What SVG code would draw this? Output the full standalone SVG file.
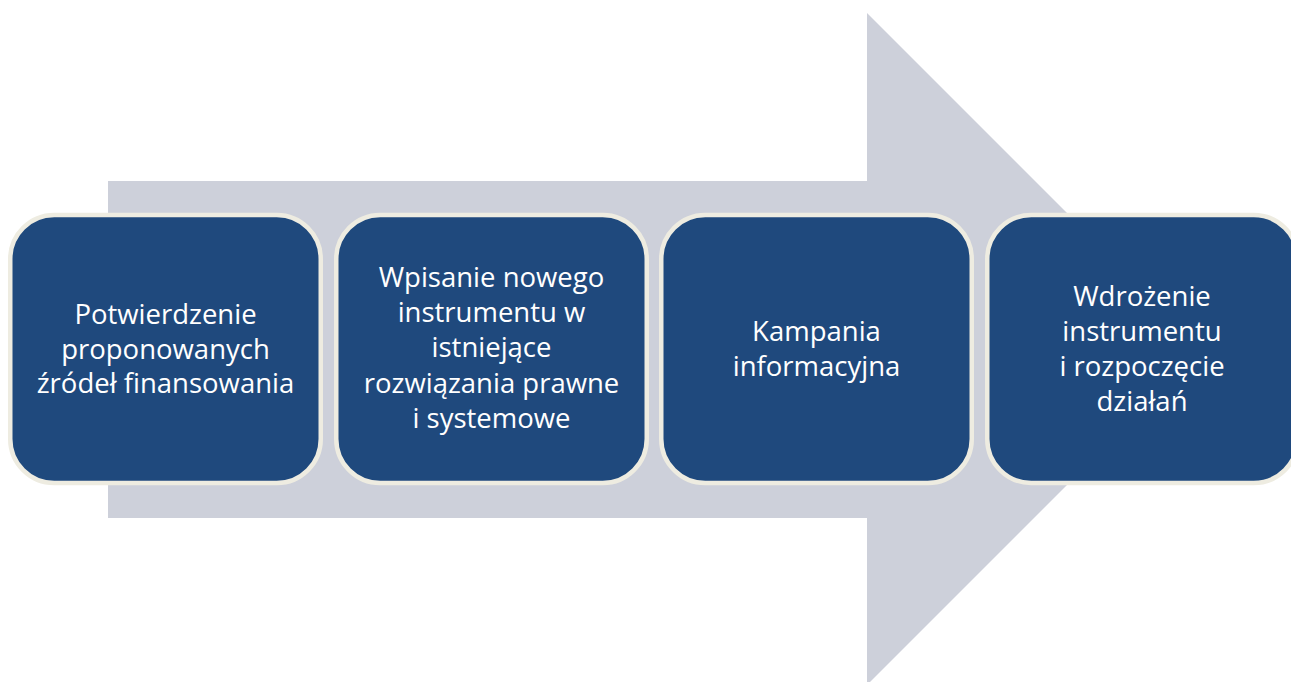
<svg xmlns="http://www.w3.org/2000/svg" width="1291" height="682" viewBox="0 0 1291 682">
<style>
.box{fill:#1f497d;stroke:#eeece1;stroke-width:4.5}
.lbl{font-family:"Open Sans","Noto Sans","Liberation Sans",sans-serif;font-size:27.5px;fill:#ffffff;text-anchor:middle}
</style>
<rect width="1291" height="682" fill="#ffffff"/>
<g id="arrow">
<polygon points="108,181 867,181 867,13 1203,349 867,685 867,518 108,518" fill="#cdd0da"/>
</g>
<g id="connectors"></g>
<g id="node1">
<rect class="box" x="10.25" y="215" width="310.5" height="268" rx="44"/>
<text class="lbl" x="165.5" y="324">Potwierdzenie</text>
<text class="lbl" x="165.5" y="358.5">proponowanych</text>
<text class="lbl" x="165.5" y="393">źródeł finansowania</text>
</g>
<g id="node2">
<rect class="box" x="336.25" y="215" width="310.5" height="268" rx="44"/>
<text class="lbl" x="491.5" y="287">Wpisanie nowego</text>
<text class="lbl" x="491.5" y="322">instrumentu w</text>
<text class="lbl" x="491.5" y="357">istniejące</text>
<text class="lbl" x="491.5" y="392.5">rozwiązania prawne</text>
<text class="lbl" x="491.5" y="428">i systemowe</text>
</g>
<g id="node3">
<rect class="box" x="661.25" y="215" width="310.5" height="268" rx="44"/>
<text class="lbl" x="816.5" y="341">Kampania</text>
<text class="lbl" x="816.5" y="376">informacyjna</text>
</g>
<g id="node4">
<rect class="box" x="987.25" y="215" width="310.5" height="268" rx="44"/>
<text class="lbl" x="1142" y="306">Wdrożenie</text>
<text class="lbl" x="1142" y="341">instrumentu</text>
<text class="lbl" x="1142" y="376">i rozpoczęcie</text>
<text class="lbl" x="1142" y="411">działań</text>
</g>
</svg>
